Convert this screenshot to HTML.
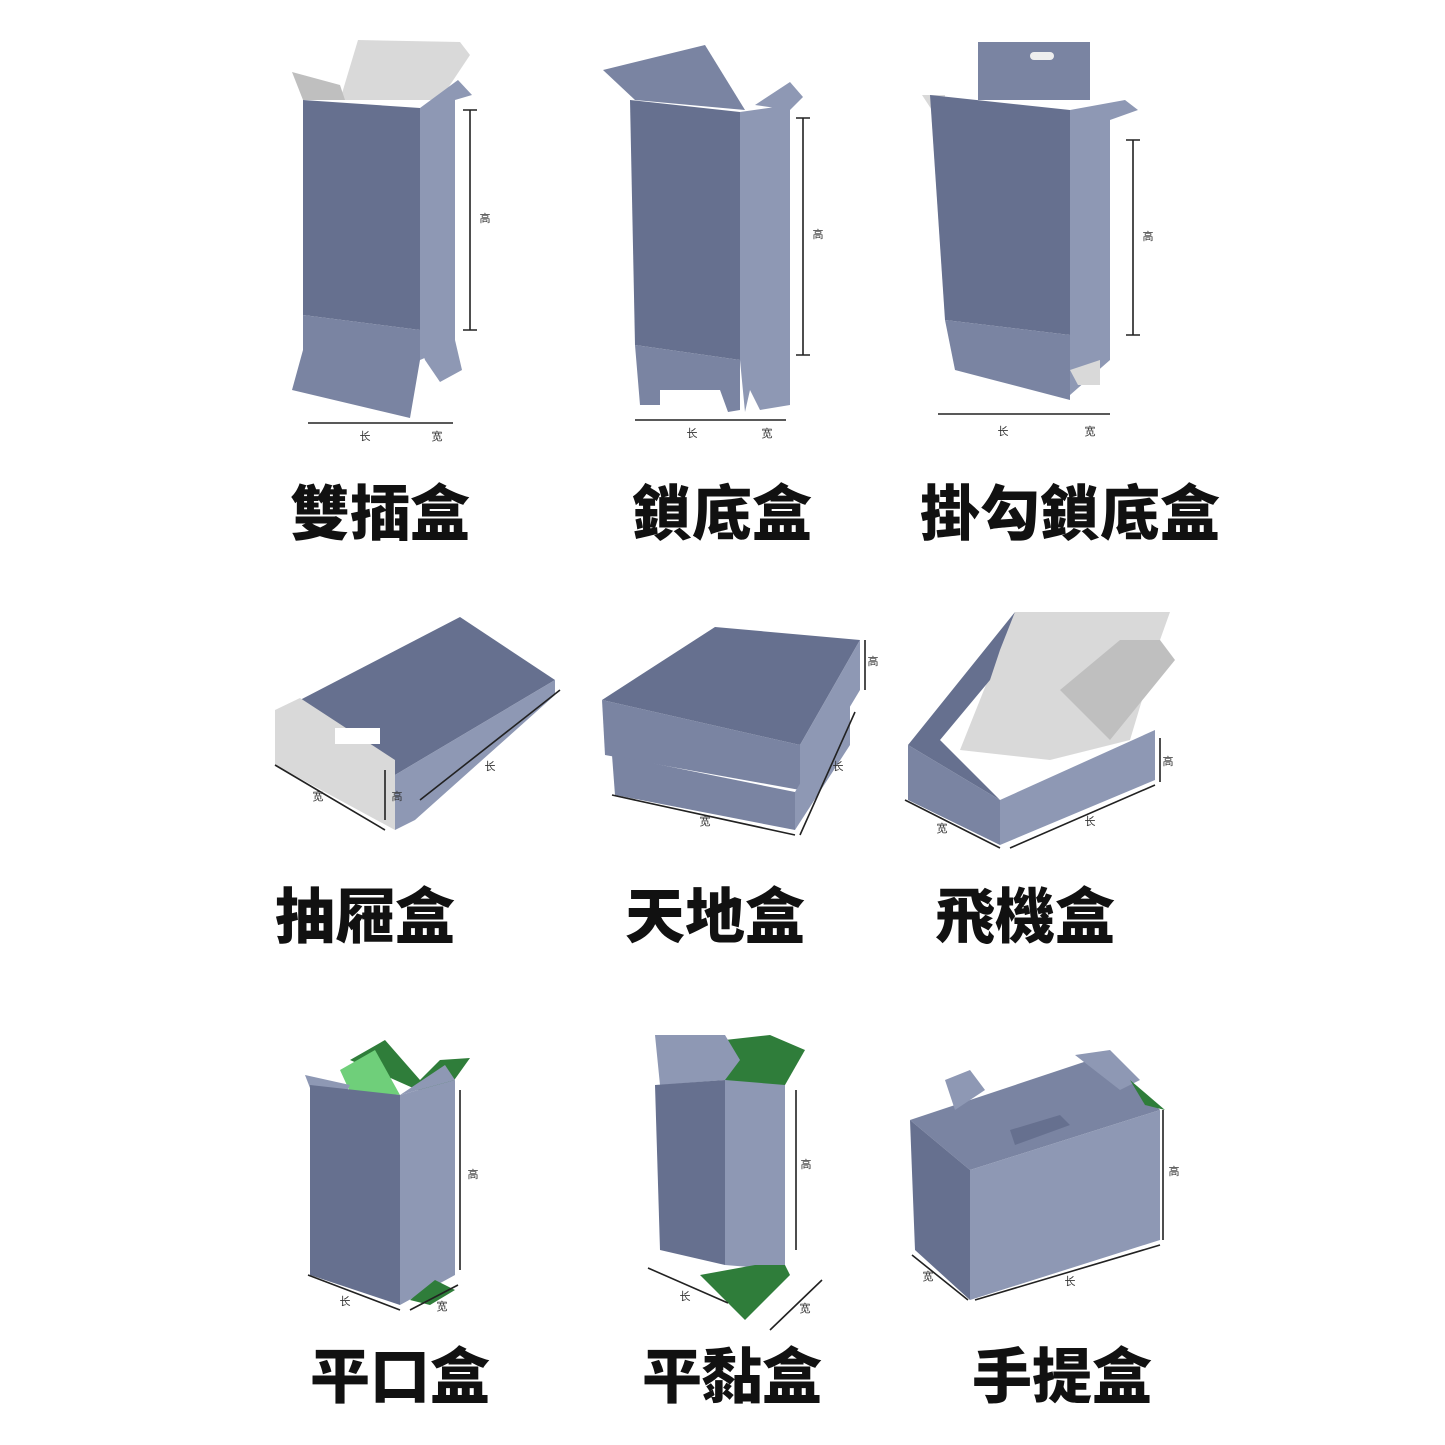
<!DOCTYPE html>
<html><head><meta charset="utf-8"><style>
html,body{margin:0;padding:0;background:#fff;}
svg{display:block;}
.lbl{font-family:"Liberation Sans","Noto Sans CJK TC",sans-serif;font-weight:900;font-size:60px;fill:#111;text-anchor:middle;}
.sm{font-family:"Liberation Sans","Noto Sans CJK SC",sans-serif;font-size:11px;fill:#333;text-anchor:middle;}
.d{fill:#66708f}.s{fill:#8e98b4}.m{fill:#7a84a2}.g{fill:#d9d9d9}.g2{fill:#bfbfbf}.gr{fill:#2f7d3a}.gl{fill:#6fcf7a}
.dim{stroke:#222;stroke-width:1.6;fill:none}
</style></head><body>
<svg width="1445" height="1445" viewBox="0 0 1445 1445" xmlns="http://www.w3.org/2000/svg">
<rect width="1445" height="1445" fill="#fff"/>
<!-- Box 1 -->
<polygon class="g" points="340,100 358,40 460,42 470,55 440,100"/>
<polygon class="g2" points="292,72 340,85 345,100 303,100"/>
<polygon class="s" points="420,108 458,80 472,95 455,100 455,345 420,360"/>
<polygon class="d" points="303,100 420,108 420,330 303,315"/>
<polygon class="m" points="303,315 420,330 420,360 410,418 292,390 303,350"/>
<polygon class="s" points="420,345 455,340 462,370 440,382 425,360"/>
<path class="dim" d="M470,110V330M463,110h14M463,330h14M308,423H420M420,423h33"/>
<text class="sm" x="485" y="222">高</text><text class="sm" x="365" y="440">长</text><text class="sm" x="437" y="440">宽</text>
<!-- Box 2 -->
<polygon class="m" points="603,70 705,45 745,110 635,100"/>
<polygon class="s" points="755,105 790,82 803,97 790,110"/>
<polygon class="d" points="630,100 740,112 740,360 635,345"/>
<polygon class="s" points="740,112 790,105 790,360 740,360"/>
<polygon class="m" points="635,345 740,360 740,410 728,412 720,390 660,390 660,405 640,405"/>
<polygon class="s" points="740,360 790,360 790,405 760,410 750,390 745,412"/>
<path class="dim" d="M803,118V355M796,118h14M796,355h14M635,420H748M748,420h38"/>
<text class="sm" x="818" y="238">高</text><text class="sm" x="692" y="437">长</text><text class="sm" x="767" y="437">宽</text>
<!-- Box 3 -->
<polygon class="m" points="978,42 1090,42 1090,100 978,100"/>
<rect x="1030" y="52" width="24" height="8" rx="4" fill="#eee"/>
<polygon class="g" points="922,95 945,95 945,130"/>
<polygon class="s" points="1070,110 1125,100 1138,110 1110,120 1110,360 1070,395"/>
<polygon class="d" points="930,95 1070,110 1070,335 945,320"/>
<polygon class="m" points="945,320 1070,335 1070,400 955,370"/>
<polygon class="g" points="1070,370 1100,360 1100,385 1078,385"/>
<path class="dim" d="M1133,140V335M1126,140h14M1126,335h14M938,414H1070M1070,414h40"/>
<text class="sm" x="1148" y="240">高</text><text class="sm" x="1003" y="435">长</text><text class="sm" x="1090" y="435">宽</text>
<text class="lbl" x="380" y="535">雙插盒</text>
<text class="lbl" x="722" y="535">鎖底盒</text>
<text class="lbl" x="1070" y="535">掛勾鎖底盒</text>
<!-- Row 2 Box 4 -->
<polygon class="d" points="300,700 460,617 555,680 395,775"/>
<polygon class="g" points="275,710 300,698 395,760 395,830 275,765"/>
<rect x="335" y="728" width="45" height="16" fill="#fff" transform="skewY(0)"/>
<polygon class="s" points="395,775 555,680 555,695 415,820 395,830"/>
<path class="dim" d="M385,770V820M275,765L385,830M420,800L560,690"/>
<text class="sm" x="397" y="800">高</text><text class="sm" x="318" y="800">宽</text><text class="sm" x="490" y="770">长</text>
<!-- Box 5 -->
<polygon class="d" points="602,700 715,627 860,640 800,745"/>
<polygon class="m" points="602,700 800,745 800,790 605,755"/>
<polygon class="s" points="800,745 860,640 860,690 800,790"/>
<polygon class="m" points="612,755 795,792 795,830 615,795"/>
<polygon class="s" points="795,792 850,700 850,745 795,830"/>
<path class="dim" d="M865,640V690M612,795L795,835M800,835L855,712"/>
<text class="sm" x="873" y="665">高</text><text class="sm" x="705" y="825">宽</text><text class="sm" x="838" y="770">长</text>
<!-- Box 6 -->
<polygon class="g" points="960,750 1015,612 1170,612 1160,640 1130,740 1050,760"/>
<polygon class="g2" points="1060,690 1120,640 1160,640 1175,660 1110,740"/>
<polygon class="d" points="908,745 1015,612 1000,650 990,680 940,740 1000,800"/>
<polygon class="m" points="908,745 1000,800 1000,845 908,800"/>
<polygon class="s" points="1000,800 1155,730 1155,780 1000,845"/>
<path class="dim" d="M1160,738V782M905,800L1000,848M1010,848L1155,785"/>
<text class="sm" x="1168" y="765">高</text><text class="sm" x="942" y="832">宽</text><text class="sm" x="1090" y="825">长</text>
<text class="lbl" x="365" y="938">抽屜盒</text>
<text class="lbl" x="715" y="938">天地盒</text>
<text class="lbl" x="1025" y="938">飛機盒</text>
<!-- Row 3 Box 7 -->
<polygon class="gr" points="350,1060 385,1040 420,1080 440,1060 470,1058 440,1100"/>
<polygon class="gl" points="340,1070 375,1050 400,1095 350,1092"/>
<polygon class="s" points="305,1075 350,1085 345,1095 310,1088"/>
<polygon class="s" points="400,1095 445,1065 455,1080"/>
<polygon class="d" points="310,1085 400,1095 400,1305 310,1275"/>
<polygon class="s" points="400,1095 455,1080 455,1275 400,1305"/>
<polygon class="gr" points="410,1300 435,1280 455,1290 430,1305"/>
<path class="dim" d="M460,1090V1270M308,1275L400,1310M410,1310L458,1285"/>
<text class="sm" x="473" y="1178">高</text><text class="sm" x="345" y="1305">长</text><text class="sm" x="442" y="1310">宽</text>
<!-- Box 8 -->
<polygon class="gr" points="725,1040 770,1035 805,1050 785,1085 725,1090"/>
<polygon class="s" points="655,1035 725,1035 740,1060 725,1080 660,1085"/>
<polygon class="d" points="655,1085 725,1080 725,1265 660,1250"/>
<polygon class="s" points="725,1080 785,1085 785,1270 725,1265"/>
<polygon class="gr" points="700,1275 755,1265 785,1265 790,1275 745,1320"/>
<path class="dim" d="M796,1090V1250M648,1268L728,1303M770,1330L822,1280"/>
<text class="sm" x="806" y="1168">高</text><text class="sm" x="685" y="1300">长</text><text class="sm" x="805" y="1312">宽</text>
<!-- Box 9 -->
<polygon class="m" points="910,1120 1105,1055 1160,1110 970,1170"/>
<polygon class="s" points="945,1080 970,1070 985,1090 955,1110"/>
<polygon class="s" points="1075,1055 1110,1050 1140,1080 1120,1090"/>
<polygon class="gr" points="1130,1080 1165,1110 1145,1105"/>
<polygon class="d" points="1010,1130 1060,1115 1070,1125 1015,1145" />
<polygon class="d" points="910,1120 970,1170 970,1300 915,1250"/>
<polygon class="s" points="970,1170 1160,1110 1160,1240 970,1300"/>
<path class="dim" d="M1163,1110V1240M912,1255L968,1300M975,1300L1160,1245"/>
<text class="sm" x="1174" y="1175">高</text><text class="sm" x="928" y="1280">宽</text><text class="sm" x="1070" y="1285">长</text>
<text class="lbl" x="400" y="1398">平口盒</text>
<text class="lbl" x="732" y="1398">平黏盒</text>
<text class="lbl" x="1062" y="1398">手提盒</text>
</svg>
</body></html>
